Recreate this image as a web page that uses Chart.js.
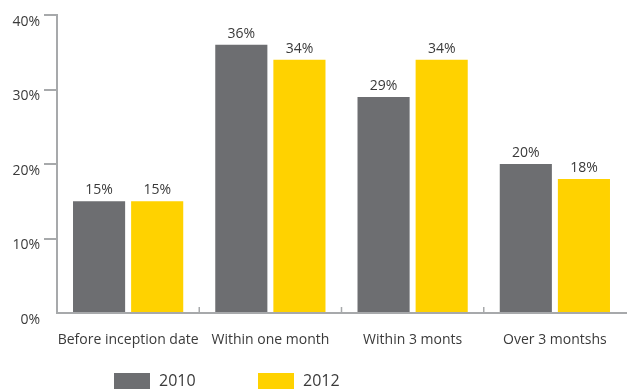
<!DOCTYPE html>
<html lang="en">
<head>
    <meta charset="UTF-8">
    <title>Timing</title>
    <script src="https://cdn.jsdelivr.net/npm/chart.js"></script>
    <style>
        html, body {
            margin: 0;
            padding: 0;
            background: #ffffff;
        }
        .wrap {
            position: relative;
            width: 627px;
            height: 390px;
        }
        .legend-item {
            position: absolute;
            top: 371px;
            font-family: "Open Sans", sans-serif;
            font-size: 16px;
            color: #3a3a3a;
            line-height: 18px;
            white-space: nowrap;
        }
        .legend-item span {
            display: inline-block;
            width: 36px;
            height: 16px;
            vertical-align: top;
            margin-right: 9px;
            margin-top: 2px;
        }
    </style>
</head>
<body>

<div class="wrap">
    <canvas id="timingChart" width="627" height="390"></canvas>
    <div class="legend-item" style="left:114px"><span style="background:#6d6e71"></span>2010</div>
    <div class="legend-item" style="left:258px"><span style="background:#ffd200"></span>2012</div>
</div>

<script>
    const categories = ['Before inception date', 'Within one month', 'Within 3 monts', 'Over 3 montshs'];
    const values2010 = [15, 36, 29, 20];
    const values2012 = [15, 34, 34, 18];
    const yTicks = [0, 10, 20, 30, 40];

    const axisGrey = '#a7a9ab';
    const textColor = '#3a3a3a';

    // value labels above each bar
    const barLabels = {
        id: 'barLabels',
        afterDatasetsDraw(chart) {
            const ctx = chart.ctx;
            ctx.save();
            ctx.font = '14px "Open Sans", sans-serif';
            ctx.fillStyle = textColor;
            ctx.textAlign = 'center';
            ctx.textBaseline = 'bottom';
            chart.data.datasets.forEach((ds, i) => {
                chart.getDatasetMeta(i).data.forEach((bar, j) => {
                    ctx.fillText(ds.data[j] + '%', bar.x, bar.y - 4);
                });
            });
            ctx.restore();
        }
    };

    // short upward ticks on the x axis between categories
    const categoryTicks = {
        id: 'categoryTicks',
        afterDraw(chart) {
            const x = chart.scales.x;
            const ctx = chart.ctx;
            ctx.save();
            ctx.strokeStyle = axisGrey;
            ctx.lineWidth = 1.5;
            for (let i = 0; i < categories.length - 1; i++) {
                const px = (x.getPixelForValue(i) + x.getPixelForValue(i + 1)) / 2;
                ctx.beginPath();
                ctx.moveTo(px, x.top);
                ctx.lineTo(px, x.top - 6);
                ctx.stroke();
            }
            ctx.restore();
        }
    };

    new Chart(document.getElementById('timingChart'), {
        type: 'bar',
        data: {
            labels: categories,
            datasets: [
                { label: '2010', data: values2010, backgroundColor: '#6d6e71' },
                { label: '2012', data: values2012, backgroundColor: '#ffd200' }
            ]
        },
        options: {
            responsive: false,
            animation: false,
            categoryPercentage: 0.817,
            barPercentage: 0.897,
            layout: { padding: { top: 15, right: 1, left: 0, bottom: 0 } },
            plugins: {
                legend: { display: false },
                tooltip: { enabled: false }
            },
            scales: {
                x: {
                    afterFit(scale) { scale.height = 77; },
                    grid: { display: false },
                    border: { color: axisGrey, width: 2 },
                    ticks: {
                        color: textColor,
                        font: { family: '"Open Sans", sans-serif', size: 14 },
                        padding: 11,
                        maxRotation: 0,
                        autoSkip: false
                    }
                },
                y: {
                    min: 0,
                    max: 40,
                    afterFit(scale) { scale.width = 57; },
                    afterBuildTicks(scale) {
                        scale.ticks = yTicks.map(v => ({ value: v }));
                    },
                    grid: {
                        drawOnChartArea: false,
                        tickLength: 13,
                        lineWidth: 2,
                        color: ctx => ctx.tick && ctx.tick.value === 0 ? 'rgba(0,0,0,0)' : axisGrey
                    },
                    border: { color: axisGrey, width: 2 },
                    ticks: {
                        color: textColor,
                        font: { family: '"Open Sans", sans-serif', size: 14 },
                        padding: 4,
                        labelOffset: 7,
                        callback: v => v + '%'
                    }
                }
            }
        },
        plugins: [barLabels, categoryTicks]
    });
</script>

</body>
</html>
